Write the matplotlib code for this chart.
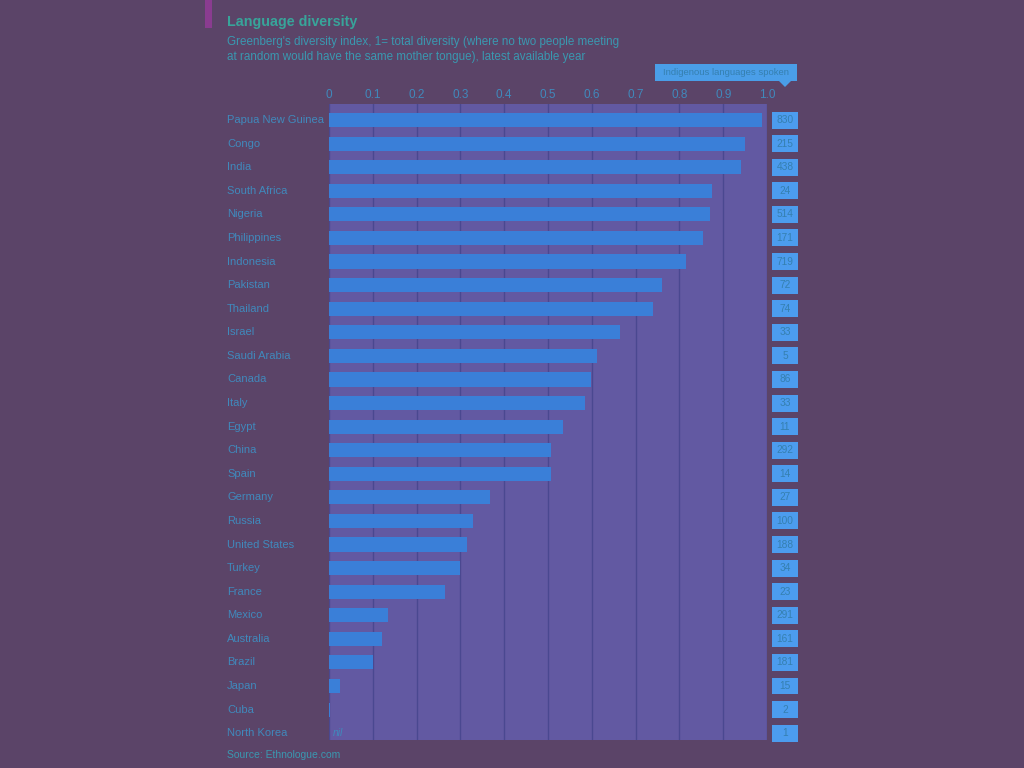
import matplotlib
matplotlib.use("Agg")
import matplotlib.pyplot as plt
from matplotlib.transforms import blended_transform_factory
from matplotlib.patches import Rectangle, Polygon

plt.rcParams['font.family'] = ['Liberation Sans', 'DejaVu Sans']

countries = ["Papua New Guinea", "Congo", "India", "South Africa", "Nigeria", "Philippines",
             "Indonesia", "Pakistan", "Thailand", "Israel", "Saudi Arabia", "Canada", "Italy",
             "Egypt", "China", "Spain", "Germany", "Russia", "United States", "Turkey", "France",
             "Mexico", "Australia", "Brazil", "Japan", "Cuba", "North Korea"]
diversity = [0.989, 0.950, 0.941, 0.874, 0.870, 0.854, 0.815, 0.760, 0.740, 0.664, 0.612,
             0.598, 0.584, 0.534, 0.507, 0.507, 0.368, 0.329, 0.315, 0.299, 0.265, 0.135,
             0.121, 0.100, 0.025, 0.002, 0.0]
languages = [830, 215, 438, 24, 514, 171, 719, 72, 74, 33, 5, 86, 33, 11, 292, 14, 27, 100,
             188, 34, 23, 291, 161, 181, 15, 2, 1]
xticks = [0, 0.1, 0.2, 0.3, 0.4, 0.5, 0.6, 0.7, 0.8, 0.9, 1.0]
xticklabels = ["0", "0.1", "0.2", "0.3", "0.4", "0.5", "0.6", "0.7", "0.8", "0.9", "1.0"]

BG = "#5b4468"
PANEL = "#6259a2"
BAR = "#3a7fd8"
TXT = "#4089bc"
GRID = "#4a4890"
BOX = "#4c9cee"
BOXTXT = "#3580b0"

W, H = 1024, 768
fig = plt.figure(figsize=(10.24, 7.68), dpi=100, facecolor=BG)
ax = fig.add_axes([329/W, 1 - 740/H, 438/W, (740 - 104)/H])
ax.set_facecolor(PANEL)

n = len(countries)
ypos = list(range(n))
ax.barh(ypos, diversity, height=0.6, color=BAR, zorder=3)
ax.set_xlim(0, 1.0)
ax.set_ylim(26.29, -0.68)

ax.set_xticks(xticks)
ax.set_xticklabels(xticklabels)
ax.xaxis.tick_top()
ax.tick_params(axis='x', length=0, pad=2, labelsize=8.5, labelcolor=TXT)
ax.set_yticks([])
ax.grid(axis='x', color=GRID, linewidth=1.0, zorder=1)
for s in ax.spines.values():
    s.set_visible(False)

tr = blended_transform_factory(fig.transFigure, ax.transData)
for i, (c, v, l) in enumerate(zip(countries, diversity, languages)):
    ax.text(227/W, i, c, transform=tr, ha='left', va='center', fontsize=8, color=TXT)
    ax.add_patch(Rectangle((772/W, i - 0.36), 26/W, 0.72, transform=tr,
                           facecolor=BOX, edgecolor='none', clip_on=False))
    ax.text(785/W, i, str(l), transform=tr, ha='center', va='center', fontsize=7.3, color=BOXTXT)
    if v == 0:
        ax.text(0.008, i, "nil", ha='left', va='center', fontsize=7.5, style='italic', color=TXT)

# header box
fig.patches.append(Rectangle((655/W, 1 - 81/H), 142/W, 17/H, transform=fig.transFigure,
                             facecolor="#4a9ee8", edgecolor='none'))
fig.patches.append(Polygon([(779/W, 1 - 81/H), (791/W, 1 - 81/H), (785/W, 1 - 87/H)],
                           closed=True, transform=fig.transFigure, facecolor="#4a9ee8", edgecolor='none'))
fig.text(726/W, 1 - 72.5/H, "Indigenous languages spoken", ha='center', va='center',
         fontsize=6.8, color=BOXTXT)

# tag
fig.patches.append(Rectangle((205/W, 1 - 28/H), 7/W, 28/H, transform=fig.transFigure,
                             facecolor="#8a3c90", edgecolor='none'))

fig.text(227/W, 1 - 22/H, "Language diversity", ha='left', va='center', fontsize=10.3,
         fontweight='bold', color="#38a49a")
fig.text(227/W, 1 - 42/H,
         "Greenberg's diversity index, 1= total diversity (where no two people meeting",
         ha='left', va='center', fontsize=8.4, color="#3a98b0")
fig.text(227/W, 1 - 57/H,
         "at random would have the same mother tongue), latest available year",
         ha='left', va='center', fontsize=8.4, color="#3a98b0")
fig.text(227/W, 1 - 755/H, "Source: Ethnologue.com", ha='left', va='center', fontsize=7.5,
         color="#3a98b0")

fig.savefig("out.png", dpi=100, facecolor=BG)
